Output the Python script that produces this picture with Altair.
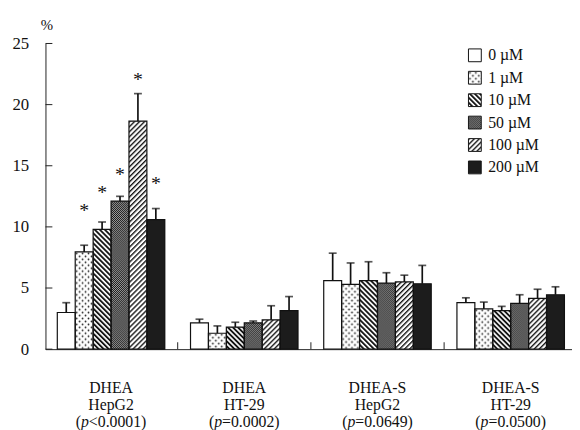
import altair as alt
import pandas as pd
import base64

# ---------------- data ----------------
groups = ["DHEA HepG2", "DHEA HT-29", "DHEA-S HepG2", "DHEA-S HT-29"]
label_line1 = ["DHEA", "DHEA", "DHEA-S", "DHEA-S"]
label_line2 = ["HepG2", "HT-29", "HepG2", "HT-29"]
label_p_rest = ["<0.0001)", "=0.0002)", "=0.0649)", "=0.0500)"]
concs = ["0 µM", "1 µM", "10 µM", "50 µM", "100 µM", "200 µM"]

mean_dhea_hepg2 = [3.0, 7.95, 9.8, 12.1, 18.65, 10.6]
err_dhea_hepg2 = [0.8, 0.55, 0.6, 0.4, 2.25, 0.9]
mean_dhea_ht29 = [2.15, 1.3, 1.8, 2.15, 2.4, 3.15]
err_dhea_ht29 = [0.3, 0.6, 0.4, 0.15, 1.15, 1.15]
mean_dheas_hepg2 = [5.6, 5.3, 5.6, 5.4, 5.5, 5.35]
err_dheas_hepg2 = [2.25, 1.75, 1.55, 0.85, 0.55, 1.5]
mean_dheas_ht29 = [3.8, 3.3, 3.15, 3.75, 4.15, 4.45]
err_dheas_ht29 = [0.4, 0.55, 0.35, 0.7, 0.75, 0.65]
star_dhea_hepg2 = [None, 11.6, 13.1, 14.6, 22.3, 13.8]

y_ticks = [0, 5, 10, 15, 20, 25]

# ---------------- tables ----------------
means = [mean_dhea_hepg2, mean_dhea_ht29, mean_dheas_hepg2, mean_dheas_ht29]
errs = [err_dhea_hepg2, err_dhea_ht29, err_dheas_hepg2, err_dheas_ht29]


def svg_uri(defs, fill):
    svg = ("<svg xmlns='http://www.w3.org/2000/svg'><defs>" + defs + "</defs>"
           "<rect x='0' y='0' width='100%' height='100%' fill='" + fill + "'/></svg>")
    return "data:image/svg+xml;base64," + base64.b64encode(svg.encode()).decode()


pattern_urls = {
    "0 µM": svg_uri("", "#ffffff"),
    "1 µM": svg_uri("<pattern id='p' width='6' height='6' patternUnits='userSpaceOnUse'>"
                    "<rect width='6' height='6' fill='#ffffff'/>"
                    "<circle cx='1.5' cy='1.5' r='0.9' fill='#222'/>"
                    "<circle cx='4.5' cy='4.5' r='0.9' fill='#222'/></pattern>", "url(#p)"),
    "10 µM": svg_uri("<pattern id='p' width='3.6' height='6' patternUnits='userSpaceOnUse' "
                     "patternTransform='rotate(-45)'>"
                     "<rect width='3.6' height='6' fill='#ffffff'/>"
                     "<rect width='1.9' height='6' fill='#151515'/></pattern>", "url(#p)"),
    "50 µM": svg_uri("<pattern id='p' width='2' height='2' patternUnits='userSpaceOnUse'>"
                     "<rect width='2' height='2' fill='#a0a0a0'/>"
                     "<rect width='1' height='1' fill='#151515'/>"
                     "<rect x='1' y='1' width='1' height='1' fill='#151515'/></pattern>", "url(#p)"),
    "100 µM": svg_uri("<pattern id='p' width='3.6' height='6' patternUnits='userSpaceOnUse' "
                      "patternTransform='rotate(45)'>"
                      "<rect width='3.6' height='6' fill='#ffffff'/>"
                      "<rect width='1.4' height='6' fill='#151515'/></pattern>", "url(#p)"),
    "200 µM": svg_uri("", "#1c1c1c"),
}
fallback_grays = ["#ffffff", "#e6e6e6", "#8c8c8c", "#555555", "#aaaaaa", "#1c1c1c"]

rows = []
for gi, g in enumerate(groups):
    for ci, c in enumerate(concs):
        rows.append({
            "group": g, "conc": c,
            "mean": means[gi][ci], "err": errs[gi][ci],
            "top": means[gi][ci] + errs[gi][ci],
            "star": star_dhea_hepg2[ci] if gi == 0 else None,
            "url": pattern_urls[c],
        })
df = pd.DataFrame(rows)
df_star = df.dropna(subset=["star"])

df_lab = pd.DataFrame({"group": groups, "l1": label_line1, "l2": label_line2,
                       "rest": label_p_rest, "open": ["("] * 4, "p": ["p"] * 4})
df_bound = pd.DataFrame({"group": groups[1:]})
df_yt = pd.DataFrame({"v": y_ticks})
df_leg = pd.DataFrame({"conc": concs, "url": [pattern_urls[c] for c in concs]})

FONT = "Liberation Serif"
W, H = 534, 310

x_scale = alt.Scale(domain=groups, paddingInner=0.193, paddingOuter=0.0728, align=0.61)
xo_scale = alt.Scale(domain=concs, paddingInner=0, paddingOuter=0)
y_scale = alt.Scale(domain=[0, 25], nice=False)

YAX = alt.Axis(values=y_ticks, ticks=False, domain=True, domainColor="#222",
               grid=False, labelFont=FONT, labelFontSize=17, labelColor="#111",
               labelPadding=17, title="%", titleAngle=0, titleFont=FONT,
               titleFontSize=15, titleFontWeight="normal", titleColor="#111",
               titleX=1, titleY=-19, titleAlign="center", titleBaseline="middle")
XAX = alt.Axis(labels=False, ticks=False, domain=True, domainColor="#222",
               domainWidth=1, title=None, grid=False)

X = alt.X("group:N", sort=groups, scale=x_scale, axis=XAX)
XO = alt.XOffset("conc:N", sort=concs, scale=xo_scale)


def Y(field):
    return alt.Y(field, scale=y_scale, axis=YAX)


base = alt.Chart(df)

bars_fill = base.mark_bar(strokeWidth=0).encode(
    x=X, xOffset=XO, y=Y("mean:Q"),
    color=alt.Color("conc:N", sort=concs,
                    scale=alt.Scale(domain=concs, range=fallback_grays), legend=None),
)

bars_img = base.mark_image(aspect=False).encode(
    x=X, xOffset=XO, y=Y("mean:Q"), y2=alt.datum(0), url=alt.Url("url:N"),
)

bars_outline = base.mark_bar(fillOpacity=0, stroke="#111", strokeWidth=1.2).encode(
    x=X, xOffset=XO, y=Y("mean:Q"),
)

stems = base.mark_rule(color="#111", strokeWidth=1.7).encode(
    x=X, xOffset=XO, y=Y("mean:Q"), y2="top:Q",
)

caps = base.mark_tick(color="#111", thickness=1.7, size=8, orient="horizontal").encode(
    x=X, xOffset=XO, y=Y("top:Q"),
)

stars = alt.Chart(df_star).mark_text(text="*", font=FONT, fontSize=20, color="#111",
                                     baseline="alphabetic", dy=10).encode(
    x=X, xOffset=XO, y=Y("star:Q"),
)

ytick_rules = alt.Chart(df_yt).mark_rule(color="#222", strokeWidth=1).encode(
    y=Y("v:Q"), x=alt.value(0), x2=alt.value(7),
)

xtick_rules = alt.Chart(df_bound).mark_rule(color="#222", strokeWidth=1, xOffset=-13).encode(
    x=alt.X("group:N", sort=groups, scale=x_scale, bandPosition=0, axis=XAX),
    y=alt.value(H - 7), y2=alt.value(H),
)

lab = alt.Chart(df_lab)
TXT = dict(font=FONT, fontSize=16, color="#111", baseline="alphabetic")
lab1 = lab.mark_text(**TXT).encode(x=X, y=alt.value(354), text="l1:N")
lab2 = lab.mark_text(**TXT).encode(x=X, y=alt.value(372), text="l2:N")
lab3a = lab.mark_text(align="right", dx=-30.5, **TXT).encode(
    x=X, y=alt.value(389), text="open:N")
lab3b = lab.mark_text(align="right", dx=-22.5, fontStyle="italic", **TXT).encode(
    x=X, y=alt.value(389), text="p:N")
lab3c = lab.mark_text(align="left", dx=-22.5, **TXT).encode(
    x=X, y=alt.value(389), text="rest:N")

main = alt.layer(bars_fill, bars_img, bars_outline, stems, caps, stars,
                 ytick_rules, xtick_rules, lab1, lab2, lab3a, lab3b, lab3c)

# ---------------- manual legend ----------------
LY = alt.Y("conc:N", sort=concs, axis=None,
           scale=alt.Scale(type="point", domain=concs, range=[12, 125.7], padding=0))
leg = alt.Chart(df_leg)
leg_img = leg.mark_image(aspect=False, width=13, height=13).encode(
    x=alt.value(435.5), y=LY, url=alt.Url("url:N"))
leg_box = leg.mark_square(size=169, filled=False, stroke="#111", strokeWidth=1, opacity=1).encode(
    x=alt.value(435.5), y=LY)
leg_txt = leg.mark_text(font=FONT, fontSize=16, color="#111", align="left",
                        baseline="middle").encode(
    x=alt.value(449), y=LY, text="conc:N")
legend = alt.layer(leg_img, leg_box, leg_txt)

chart = alt.layer(main, legend).resolve_scale(y="independent").properties(
    width=W, height=H,
    padding={"left": 38, "top": 33, "right": 0, "bottom": 79},
    autosize=alt.AutoSizeParams(type="none"),
).configure_view(stroke=None)

chart.save("out.html", embed_options={"renderer": "svg", "actions": False})
